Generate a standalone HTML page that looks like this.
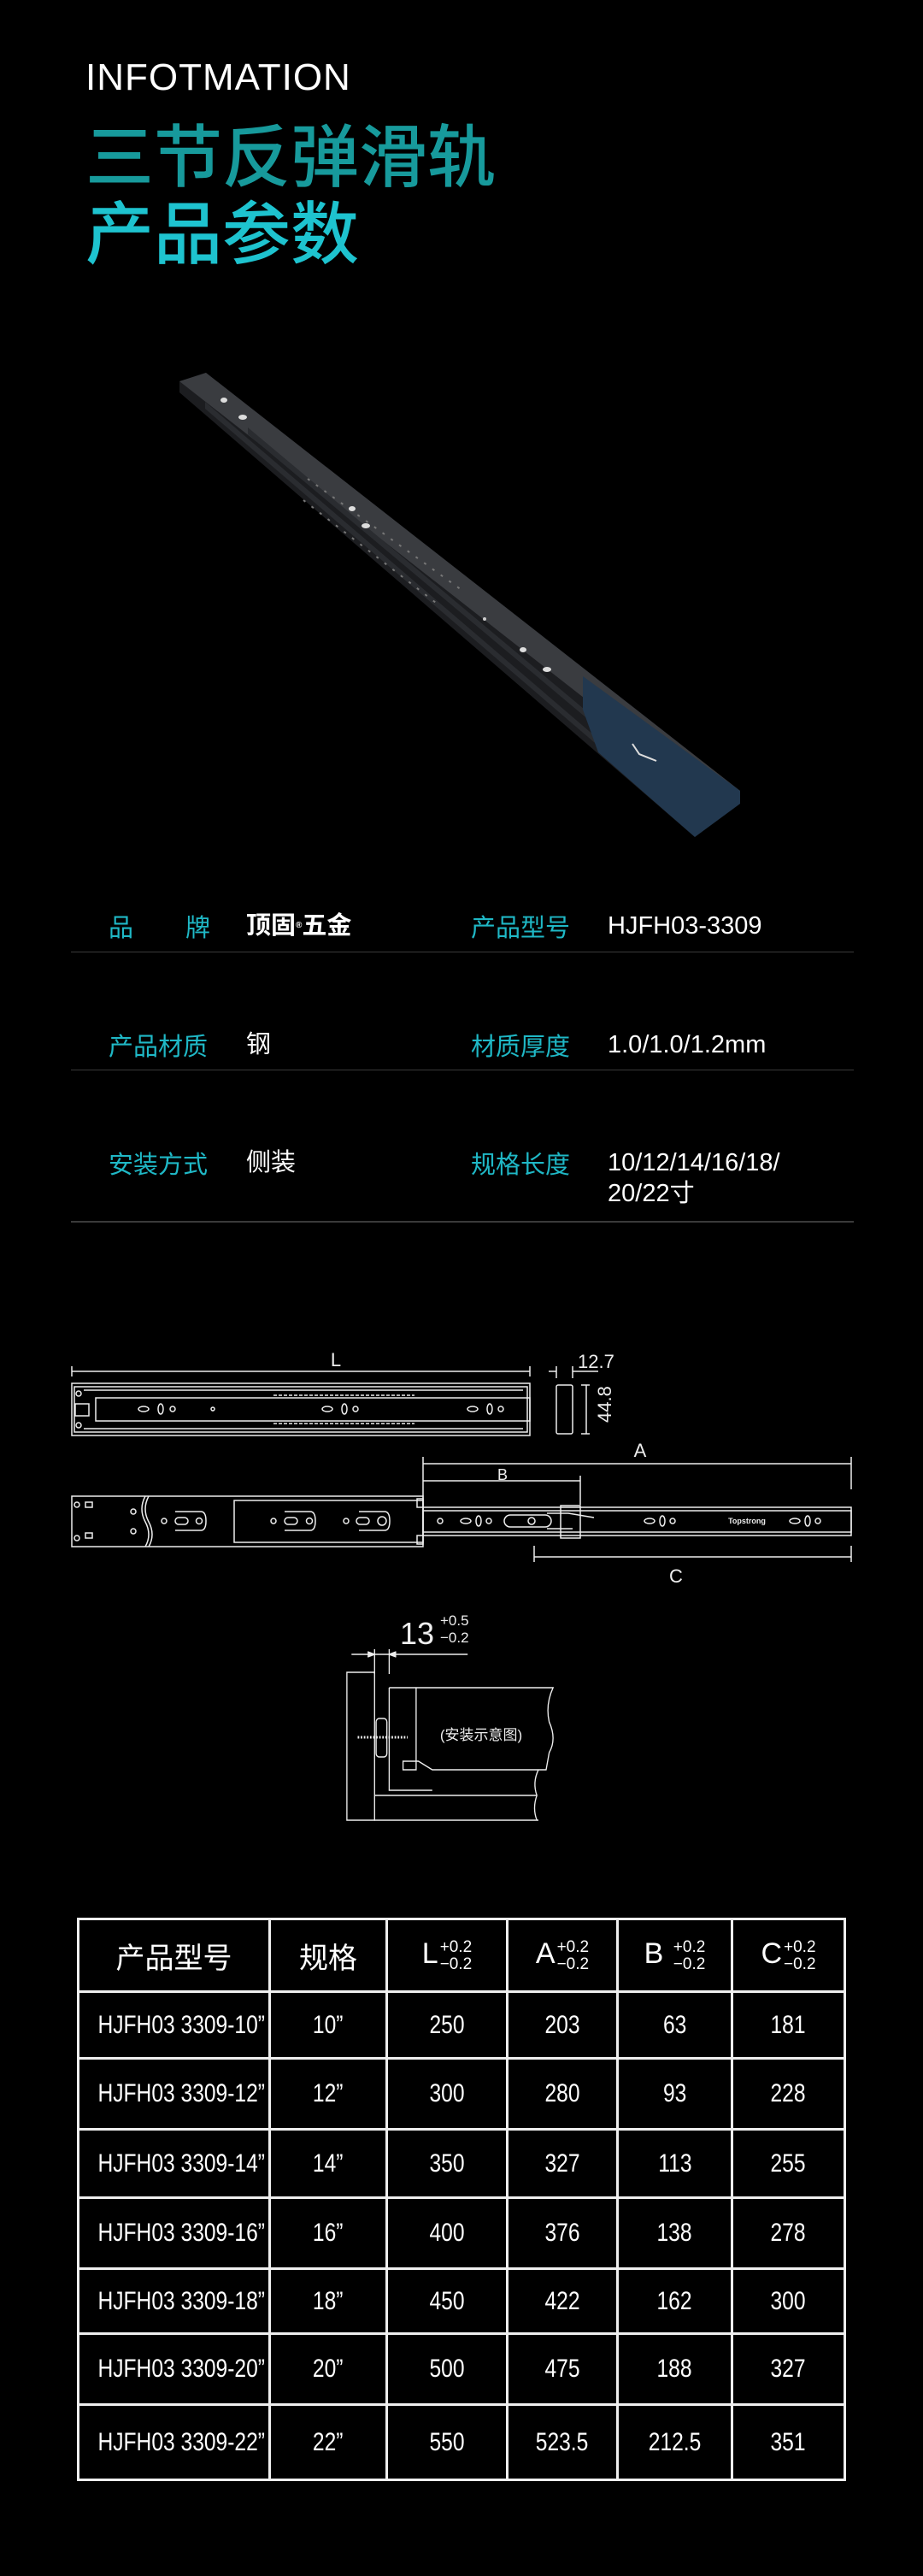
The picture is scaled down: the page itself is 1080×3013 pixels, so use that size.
<!DOCTYPE html>
<html><head><meta charset="utf-8"><style>
*{margin:0;padding:0;box-sizing:border-box}
body{width:1080px;height:3013px;background:#000;position:relative;overflow:hidden;font-family:"Liberation Sans","Noto Sans CJK SC",sans-serif;color:#fff}
.a{position:absolute;white-space:nowrap}
.en{font-size:44px;letter-spacing:1px;left:100px;top:66px}
.t1{font-size:80px;left:100px;top:133px;color:#179a9c;font-family:"Noto Sans CJK SC",sans-serif;font-weight:500;line-height:90px}
.t2{font-size:80px;left:100px;top:223px;color:#1ec3cf;font-family:"Noto Sans CJK SC",sans-serif;font-weight:500;line-height:90px}
.lb{font-size:29px;color:#1fb8c6;font-family:"Noto Sans CJK SC",sans-serif;line-height:36px}
.vl{font-size:29px;color:#fff;font-family:"Liberation Sans","Noto Sans CJK SC",sans-serif;line-height:36px}
.hl{position:absolute;left:83px;width:916px;height:1px;background:#3a3a3a}
table{position:absolute;left:90px;top:2243px;width:900px;border-collapse:collapse;table-layout:fixed}
td{border:3px solid #eee;text-align:center;vertical-align:middle;font-size:30px;padding:0;white-space:nowrap;overflow:visible}
td span{display:inline-block;transform:scaleX(0.82)}
.h td{font-family:"Noto Sans CJK SC",sans-serif;font-size:34px}
.tol{display:inline-block;vertical-align:middle;font-size:19px;line-height:20px;text-align:left;margin-left:2px;font-family:"Liberation Sans",sans-serif}
</style></head><body>
<div class="a en">INFOTMATION</div>
<div class="a t1">三节反弹滑轨</div>
<div class="a t2">产品参数</div>

<svg class="a" style="left:0;top:0" width="1080" height="1000">
<polygon points="210,446 241,436 866,925 866,940 813,979 210,459" fill="#1c1d20"/>
<polygon points="210,446 241,436 866,925 835,935" fill="#3a3c40"/>
<polygon points="240,470 800,950 800,958 240,478" fill="#2a2c30"/>
<polygon points="290,500 720,860 720,868 290,508" fill="#2a2c30"/>
<polygon points="682,791 866,925 866,940 813,979 700,880 682,830" fill="#22384f"/>
<line x1="360" y1="560" x2="540" y2="690" stroke="#777" stroke-width="2" stroke-dasharray="3 9"/>
<line x1="355" y1="585" x2="510" y2="705" stroke="#777" stroke-width="2" stroke-dasharray="3 9"/>
<ellipse cx="262" cy="468" rx="4" ry="3" fill="#ddd"/><ellipse cx="284" cy="488" rx="5" ry="3" fill="#ddd"/>
<ellipse cx="412" cy="595" rx="4" ry="3" fill="#ddd"/><ellipse cx="428" cy="615" rx="5" ry="3" fill="#ddd"/>
<ellipse cx="612" cy="760" rx="4" ry="3" fill="#ddd"/><ellipse cx="640" cy="783" rx="5" ry="3" fill="#ddd"/>
<circle cx="567" cy="724" r="2" fill="#ccc"/>
<path d="M740,870 l8,12 l20,8" stroke="#ddd" stroke-width="2" fill="none"/>
</svg>

<div class="a lb" style="left:127px;top:1065px">品</div>
<div class="a lb" style="left:217px;top:1065px">牌</div>
<div class="a vl" style="left:288px;top:1065px;font-weight:bold">顶固<span style="font-size:10px;vertical-align:top">®</span>五金</div>
<div class="a lb" style="left:551px;top:1065px">产品型号</div>
<div class="a vl" style="left:711px;top:1065px">HJFH03-3309</div>
<div class="hl" style="top:1113px"></div>
<div class="a lb" style="left:127px;top:1204px">产品材质</div>
<div class="a vl" style="left:288px;top:1204px">钢</div>
<div class="a lb" style="left:551px;top:1204px">材质厚度</div>
<div class="a vl" style="left:711px;top:1204px">1.0/1.0/1.2mm</div>
<div class="hl" style="top:1251px"></div>
<div class="a lb" style="left:127px;top:1342px">安装方式</div>
<div class="a vl" style="left:288px;top:1342px">侧装</div>
<div class="a lb" style="left:551px;top:1342px">规格长度</div>
<div class="a vl" style="left:711px;top:1342px;line-height:36px">10/12/14/16/18/<br>20/22寸</div>
<div class="hl" style="top:1428px;height:2px"></div>

<svg class="a" style="left:0;top:1560px" width="1080" height="600" fill="none" stroke="#eee" stroke-width="1.5" font-family="Liberation Sans, Noto Sans CJK SC, sans-serif">
<g transform="translate(0,-1560)">
<line x1="84" y1="1604" x2="620" y2="1604"/><line x1="84" y1="1598" x2="84" y2="1610"/><line x1="620" y1="1598" x2="620" y2="1610"/>
<text x="393" y="1598" fill="#eee" stroke="none" font-size="22" text-anchor="middle">L</text>
<rect x="84" y="1618" width="536" height="61"/>
<rect x="87" y="1622" width="530" height="53"/>
<rect x="112" y="1635" width="508" height="27"/>
<line x1="98" y1="1626" x2="612" y2="1626"/><line x1="98" y1="1671" x2="612" y2="1671"/>
<rect x="88" y="1642" width="16" height="14"/>
<circle cx="92" cy="1630" r="3"/><circle cx="92" cy="1667" r="3"/>
<ellipse cx="168" cy="1648" rx="6" ry="3"/><ellipse cx="188" cy="1648" rx="3" ry="6"/><circle cx="202" cy="1648" r="3"/>
<circle cx="249" cy="1648" r="2"/>
<ellipse cx="383" cy="1648" rx="6" ry="3"/><ellipse cx="403" cy="1648" rx="3" ry="6"/><circle cx="416" cy="1648" r="3"/>
<ellipse cx="553" cy="1648" rx="6" ry="3"/><ellipse cx="573" cy="1648" rx="3" ry="6"/><circle cx="586" cy="1648" r="3"/>
<line x1="320" y1="1632" x2="485" y2="1632" stroke-dasharray="4 2"/><line x1="320" y1="1665" x2="485" y2="1665" stroke-dasharray="4 2"/>
<rect x="651" y="1620" width="19" height="57" rx="2"/>
<line x1="642" y1="1604" x2="651" y2="1604"/><line x1="670" y1="1604" x2="700" y2="1604"/>
<line x1="651" y1="1598" x2="651" y2="1612"/><line x1="670" y1="1598" x2="670" y2="1612"/>
<line x1="680" y1="1620" x2="690" y2="1620"/><line x1="680" y1="1677" x2="690" y2="1677"/><line x1="686" y1="1620" x2="686" y2="1677"/>
<text x="676" y="1600" fill="#eee" stroke="none" font-size="22">12.7</text>
<text transform="translate(715,1664) rotate(-90)" fill="#eee" stroke="none" font-size="22">44.8</text>
<line x1="495" y1="1712" x2="996" y2="1712"/><line x1="495" y1="1704" x2="495" y2="1760"/><line x1="996" y1="1704" x2="996" y2="1742"/>
<text x="749" y="1704" fill="#eee" stroke="none" font-size="22" text-anchor="middle">A</text>
<line x1="495" y1="1732" x2="679" y2="1732"/><line x1="679" y1="1726" x2="679" y2="1760"/>
<text x="588" y="1731" fill="#eee" stroke="none" font-size="18" text-anchor="middle">B</text>
<rect x="84" y="1750" width="411" height="59"/>
<path d="M170,1750 q-8,15 0,30 q8,15 0,29 M174,1750 q-8,15 0,30 q8,15 0,29"/>
<rect x="274" y="1755" width="221" height="49"/>
<circle cx="90" cy="1760" r="3"/><rect x="100" y="1757" width="8" height="6"/><circle cx="90" cy="1799" r="3"/><rect x="100" y="1793" width="8" height="6"/>
<circle cx="156" cy="1768" r="3"/><circle cx="156" cy="1791" r="3"/>
<circle cx="192" cy="1779" r="3"/><rect x="205" y="1775" width="15" height="8" rx="4"/><circle cx="233" cy="1779" r="3.5"/><path d="M205,1768 h30 q6,0 6,11 q0,11 -6,11 h-30"/>
<circle cx="320" cy="1779" r="3"/><rect x="333" y="1775" width="15" height="8" rx="4"/><circle cx="362" cy="1779" r="3.5"/><path d="M333,1768 h30 q6,0 6,11 q0,11 -6,11 h-30"/>
<circle cx="405" cy="1779" r="3"/><rect x="417" y="1775" width="15" height="8" rx="4"/><circle cx="447" cy="1779" r="5"/><path d="M420,1768 h30 q6,0 6,11 q0,11 -6,11 h-30"/>
<rect x="488" y="1753" width="7" height="10"/><rect x="488" y="1796" width="7" height="10"/>
<rect x="495" y="1763" width="501" height="33"/><rect x="495" y="1767" width="501" height="25"/>
<circle cx="515" cy="1779" r="3"/><ellipse cx="545" cy="1779" rx="6" ry="3"/><ellipse cx="560" cy="1779" rx="3" ry="6"/><circle cx="572" cy="1779" r="3"/>
<rect x="590" y="1772" width="55" height="14" rx="7"/><circle cx="622" cy="1779" r="4"/>
<rect x="656" y="1761" width="23" height="38"/>
<path d="M640,1770 l25,0 l30,5 M640,1788 l30,0"/>
<ellipse cx="760" cy="1779" rx="6" ry="3"/><ellipse cx="775" cy="1779" rx="3" ry="6"/><circle cx="787" cy="1779" r="3"/>
<text x="874" y="1782" fill="#eee" stroke="none" font-size="9" font-weight="bold" text-anchor="middle">Topstrong</text>
<ellipse cx="930" cy="1779" rx="6" ry="3"/><ellipse cx="945" cy="1779" rx="3" ry="6"/><circle cx="957" cy="1779" r="3"/>
<line x1="625" y1="1821" x2="996" y2="1821"/><line x1="625" y1="1808" x2="625" y2="1827"/><line x1="996" y1="1808" x2="996" y2="1827"/>
<text x="791" y="1851" fill="#eee" stroke="none" font-size="22" text-anchor="middle">C</text>
<text x="468" y="1923" fill="#eee" stroke="none" font-size="36">13</text>
<text x="515" y="1901" fill="#eee" stroke="none" font-size="17">+0.5</text>
<text x="515" y="1921" fill="#eee" stroke="none" font-size="17">−0.2</text>
<text x="563" y="2035" fill="#eee" stroke="none" font-size="17" text-anchor="middle">(安装示意图)</text>
<g transform="matrix(0.9,0,0,1,0,0)">
<line x1="457" y1="1935" x2="608" y2="1935"/><line x1="487" y1="1929" x2="487" y2="1958"/><line x1="506" y1="1929" x2="506" y2="1958"/>
<path d="M478,1932 l9,3 l-9,3 M515,1932 l-9,3 l9,3" fill="#eee"/>
<rect x="451" y="1956" width="36" height="173"/>
<path d="M487,2100 H698 M487,2129 H700"/>
<path d="M506,1974 V2094 H562"/>
<path d="M506,1974 H719 q-10,20 -5,40 q10,20 0,36 l-4,20 H562 l-18,-10 H524 V2070 H541 V1974"/>
<path d="M700,2070 q-8,15 -2,30 q-6,15 0,29"/>
<rect x="489" y="2010" width="14" height="45" rx="4"/>
<path d="M465,2032 H530" stroke-width="3" stroke-dasharray="2 2"/>
</g>
</g></svg>

<table>
<colgroup><col style="width:224px"><col style="width:137px"><col style="width:141px"><col style="width:129px"><col style="width:134px"><col></colgroup>
<tr class="h" style="height:85px"><td>产品型号</td><td>规格</td><td style="font-family:'Liberation Sans'">L<span class="tol" style="transform:none">+0.2<br>−0.2</span></td><td style="font-family:'Liberation Sans'">A<span class="tol" style="transform:none">+0.2<br>−0.2</span></td><td style="font-family:'Liberation Sans'">B <span class="tol" style="transform:none">+0.2<br>−0.2</span></td><td style="font-family:'Liberation Sans'">C<span class="tol" style="transform:none">+0.2<br>−0.2</span></td></tr>
<tr style="height:78px"><td><span>HJFH03 3309-10”</span></td><td><span>10”</span></td><td><span>250</span></td><td><span>203</span></td><td><span>63</span></td><td><span>181</span></td></tr>
<tr style="height:83px"><td><span>HJFH03 3309-12”</span></td><td><span>12”</span></td><td><span>300</span></td><td><span>280</span></td><td><span>93</span></td><td><span>228</span></td></tr>
<tr style="height:80px"><td><span>HJFH03 3309-14”</span></td><td><span>14”</span></td><td><span>350</span></td><td><span>327</span></td><td><span>113</span></td><td><span>255</span></td></tr>
<tr style="height:83px"><td><span>HJFH03 3309-16”</span></td><td><span>16”</span></td><td><span>400</span></td><td><span>376</span></td><td><span>138</span></td><td><span>278</span></td></tr>
<tr style="height:76px"><td><span>HJFH03 3309-18”</span></td><td><span>18”</span></td><td><span>450</span></td><td><span>422</span></td><td><span>162</span></td><td><span>300</span></td></tr>
<tr style="height:83px"><td><span>HJFH03 3309-20”</span></td><td><span>20”</span></td><td><span>500</span></td><td><span>475</span></td><td><span>188</span></td><td><span>327</span></td></tr>
<tr style="height:88px"><td><span>HJFH03 3309-22”</span></td><td><span>22”</span></td><td><span>550</span></td><td><span>523.5</span></td><td><span>212.5</span></td><td><span>351</span></td></tr>
</table>
</body></html>
